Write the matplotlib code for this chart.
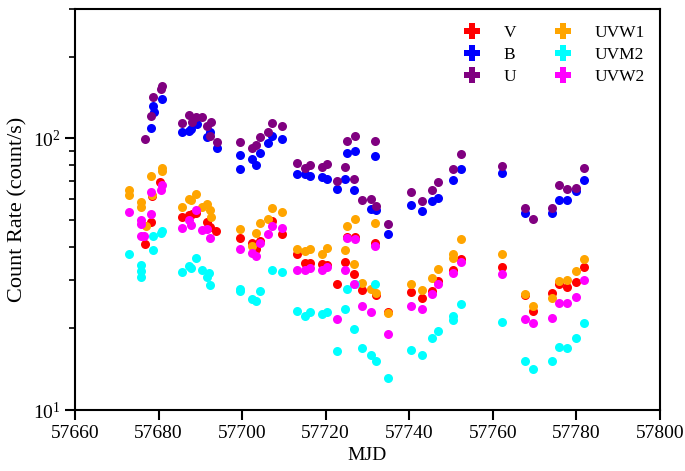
import matplotlib
matplotlib.use("Agg")
import matplotlib.pyplot as plt
from matplotlib.lines import Line2D
from matplotlib.ticker import LogLocator, NullFormatter

plt.rcParams['font.family'] = ['Liberation Serif', 'DejaVu Serif']
plt.rcParams['mathtext.fontset'] = 'stix'

# ---- data (MJD, count rate) ----
v_mjd = [57676.8, 57678.1, 57678.5, 57680.4,
         57685.5, 57687.3, 57688.0, 57689.0, 57691.5, 57692.4, 57693.8,
         57699.5, 57702.3, 57703.2, 57704.3, 57707.1, 57709.5,
         57713.2, 57715.0, 57716.2, 57719.0, 57720.3, 57722.6, 57724.6, 57725.0,
         57727.0, 57726.8, 57728.8, 57732.0, 57731.9, 57735.0,
         57740.3, 57743.0, 57745.4, 57746.9, 57750.4, 57752.3, 57762.3,
         57767.7, 57769.5, 57774.1, 57775.9, 57777.8, 57779.8, 57781.8]
v_rate = [40.8, 49.2, 61.2, 69.1,
          51.4, 52.1, 52.9, 53.0, 49.1, 47.1, 45.7,
          43.1, 41.2, 39.3, 41.9, 49.7, 44.6,
          37.5, 34.8, 34.8, 34.6, 34.1, 29.2, 35.1, 43.4,
          43.4, 31.8, 27.6, 26.5, 41.2, 23.0,
          27.2, 25.9, 27.5, 29.8, 32.7, 35.9, 33.5,
          26.5, 23.1, 26.9, 29.2, 28.4, 29.6, 33.5]

b_mjd = [57678.1, 57678.6, 57678.8, 57680.7,
         57685.5, 57687.3, 57687.7, 57689.1, 57691.5, 57692.4, 57693.9,
         57699.5, 57699.6, 57702.3, 57703.2, 57704.3, 57706.3, 57707.2, 57709.5,
         57713.2, 57715.0, 57716.2, 57719.0, 57720.3, 57722.6, 57724.6, 57725.0,
         57727.0, 57726.8, 57730.8, 57732.0, 57731.9, 57735.0,
         57740.3, 57743.0, 57745.4, 57746.9, 57750.4, 57752.3, 57762.3,
         57767.7, 57774.1, 57775.9, 57777.8, 57779.8, 57781.8]
b_rate = [109.6, 132.2, 125.0, 140.0,
          105.5, 107.0, 108.6, 113.2, 101.5, 105.7, 92.1,
          87.1, 77.4, 84.2, 80.1, 88.6, 96.1, 102.0, 99.7,
          74.2, 73.7, 72.5, 72.1, 71.1, 64.9, 71.1, 88.3,
          90.3, 64.4, 55.1, 54.6, 86.1, 44.5,
          56.7, 53.9, 58.7, 60.3, 70.1, 77.4, 74.8,
          53.1, 53.1, 59.2, 59.2, 63.9, 70.5]

u_mjd = [57676.8, 57678.1, 57678.7, 57680.5, 57680.9,
         57685.5, 57687.3, 57688.0, 57689.0, 57690.3, 57691.6, 57692.6, 57692.4, 57693.9,
         57699.5, 57702.3, 57703.2, 57704.3, 57706.3, 57707.1, 57709.5,
         57713.2, 57715.0, 57716.2, 57719.0, 57720.3, 57722.6, 57724.6, 57725.0,
         57727.0, 57726.8, 57728.8, 57730.8, 57731.9, 57732.0, 57735.0,
         57740.3, 57743.0, 57745.4, 57746.9, 57750.4, 57752.3, 57762.3,
         57767.7, 57769.5, 57774.1, 57775.9, 57777.8, 57779.8, 57781.8]
u_rate = [99.7, 121.5, 142.7, 152.3, 155.7,
          113.8, 122.2, 115.5, 119.7, 119.8, 111.6, 115.5, 102.3, 96.9,
          97.2, 92.1, 94.3, 101.1, 106.1, 114.2, 111.0,
          81.1, 77.8, 79.6, 78.4, 80.3, 69.7, 78.4, 98.3,
          102.1, 71.1, 59.2, 59.7, 97.9, 56.5, 48.3,
          63.5, 58.7, 64.4, 69.1, 76.9, 87.8, 79.1,
          55.6, 50.4, 55.6, 67.2, 65.3, 65.9, 77.8]

w1_mjd = [57673.0, 57673.0, 57675.8, 57675.8, 57676.9, 57678.1, 57678.5, 57680.7, 57680.9,
          57685.5, 57687.3, 57687.7, 57689.0, 57690.3, 57691.5, 57692.4, 57692.6,
          57699.5, 57702.3, 57703.2, 57704.3, 57706.3, 57707.1, 57709.5,
          57713.2, 57715.0, 57716.2, 57719.0, 57720.3, 57724.6, 57725.0,
          57727.0, 57726.8, 57728.8, 57730.8, 57732.0, 57731.9, 57735.0,
          57740.3, 57743.0, 57745.4, 57746.9, 57750.4, 57750.4, 57752.3, 57762.3,
          57767.7, 57769.5, 57774.1, 57775.9, 57777.8, 57779.8, 57781.8]
w1_rate = [64.4, 61.7, 58.3, 55.9, 47.6, 72.5, 61.7, 75.6, 77.8,
           55.9, 60.0, 59.2, 62.4, 55.9, 57.2, 54.4, 51.4,
           46.6, 40.1, 44.9, 48.8, 50.7, 55.6, 53.6,
           39.3, 38.5, 39.1, 37.6, 39.6, 38.8, 47.6,
           50.7, 34.6, 29.4, 28.0, 26.9, 48.8, 22.7,
           29.2, 27.6, 30.6, 33.0, 37.5, 36.4, 42.5, 37.4,
           26.7, 24.1, 25.9, 29.8, 30.1, 32.5, 36.1]

m2_mjd = [57673.0, 57675.8, 57675.8, 57675.8, 57678.6, 57678.6, 57680.5, 57680.9,
          57685.5, 57687.3, 57687.8, 57689.0, 57690.3, 57691.6, 57692.1, 57692.4,
          57699.5, 57699.6, 57702.3, 57703.2, 57704.3, 57707.1, 57709.5,
          57713.2, 57715.0, 57716.2, 57719.0, 57720.3, 57722.6, 57724.6, 57725.0,
          57726.8, 57727.0, 57728.8, 57730.8, 57732.0, 57731.9, 57735.0,
          57740.3, 57743.0, 57745.4, 57746.9, 57750.4, 57750.4, 57752.3, 57762.3,
          57767.7, 57769.5, 57774.1, 57775.9, 57777.8, 57779.8, 57781.8]
m2_rate = [37.7, 34.1, 32.5, 30.9, 38.8, 43.7, 45.0, 45.6,
           32.1, 33.9, 33.4, 36.4, 32.7, 30.9, 32.0, 28.8,
           28.0, 27.5, 25.6, 25.3, 27.4, 32.7, 32.3,
           23.2, 22.2, 23.0, 22.5, 23.0, 16.5, 23.6, 28.0,
           19.8, 29.2, 16.9, 15.9, 15.2, 29.1, 13.1,
           16.7, 15.9, 18.4, 19.6, 22.2, 21.4, 24.5, 21.1,
           15.1, 14.2, 15.1, 17.1, 16.9, 18.4, 20.9]

w2_mjd = [57673.0, 57675.8, 57675.8, 57675.8, 57676.6, 57678.1, 57678.1, 57680.5, 57680.9,
          57685.5, 57687.3, 57687.7, 57689.0, 57690.3, 57691.5, 57692.4,
          57699.5, 57702.3, 57703.2, 57704.3, 57706.3, 57707.1, 57709.5,
          57713.2, 57715.0, 57716.2, 57719.0, 57720.3, 57722.6, 57724.6, 57725.0,
          57727.0, 57726.8, 57728.8, 57730.8, 57731.9, 57735.0,
          57740.3, 57743.0, 57745.4, 57746.9, 57750.4, 57752.3, 57762.3,
          57767.7, 57769.5, 57774.1, 57775.9, 57777.8, 57779.8, 57781.8]
w2_rate = [53.6, 50.2, 48.6, 43.7, 43.7, 52.9, 63.5, 64.4, 67.2,
           46.9, 49.9, 47.9, 54.4, 46.2, 46.5, 43.1,
           39.3, 38.0, 36.8, 41.2, 44.6, 47.6, 47.0,
           32.9, 32.9, 33.4, 32.8, 33.5, 21.6, 32.8, 43.1,
           42.6, 29.0, 24.1, 23.0, 40.1, 19.1,
           24.2, 23.6, 26.7, 29.2, 32.0, 35.1, 31.6,
           21.7, 20.9, 21.9, 24.7, 24.7, 26.1, 30.1]

series = [
    ("V", v_mjd, v_rate, "red"),
    ("B", b_mjd, b_rate, "blue"),
    ("U", u_mjd, u_rate, "#800080"),
    ("UVW1", w1_mjd, w1_rate, "orange"),
    ("UVM2", m2_mjd, m2_rate, "cyan"),
    ("UVW2", w2_mjd, w2_rate, "magenta"),
]

fig = plt.figure(figsize=(6.85, 4.71), dpi=100)
ax = fig.add_axes([0.1095, 0.1295, 0.854, 0.8515])

for name, x, y, c in series:
    ax.plot(x, y, 'o', color=c, markersize=6.5, markeredgewidth=0, linestyle='none')

ax.set_yscale('log')
ax.set_xlim(57660, 57800)
ax.set_ylim(10, 300)
ax.set_xticks(range(57660, 57801, 20))
ax.yaxis.set_major_locator(LogLocator(base=10))
ax.yaxis.set_minor_locator(LogLocator(base=10, subs=range(2, 10)))
ax.yaxis.set_minor_formatter(NullFormatter())

for s in ax.spines.values():
    s.set_linewidth(1.5)
ax.tick_params(which='major', direction='out', length=7, width=1.5, labelsize=14)
ax.tick_params(which='minor', direction='out', length=4, width=1.2)
ax.tick_params(top=False, right=False)

ax.set_xlabel("MJD", fontsize=14)
ax.set_ylabel("Count Rate (count/s)", fontsize=16)

handles = [Line2D([], [], marker='P', color=c, linestyle='none', markersize=11,
                  markeredgewidth=0) for _, _, _, c in series]
labels = [n for n, _, _, _ in series]
ax.legend(handles, labels, ncol=2, loc='upper right', frameon=False, fontsize=12.5,
          bbox_to_anchor=(1.0, 1.0), columnspacing=1.7, handletextpad=0.8,
          labelspacing=0.35)

fig.savefig("out.png", dpi=100)
